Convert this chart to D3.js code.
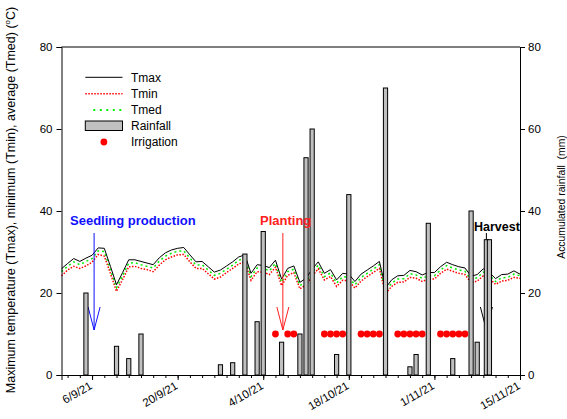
<!DOCTYPE html>
<html>
<head>
<meta charset="utf-8">
<script src="https://cdn.jsdelivr.net/npm/d3@7"></script>
<style>
  body { margin: 0; background: #fff; }
  svg { font-family: "Liberation Sans", Arial, sans-serif; }
  .axis text { font-size: 11.5px; fill: #000; }
  .axis path, .axis line { stroke: #000; }
</style>
</head>
<body>
<svg width="567" height="419"></svg>
<script>
// daily temperatures starting 1/9/21
const tempStart = "2021-09-01";
const tmax = [25.9, 27.2, 28.4, 27.7, 28.5, 29.2, 31.0, 30.9, 26.5, 22.0,
  25.0, 28.1, 28.1, 27.7, 27.3, 26.9, 28.6, 29.8, 30.5, 30.9,
  31.1, 29.3, 27.6, 27.7, 26.4, 25.1, 25.6, 26.6, 27.6, 28.8,
  29.3, 24.8, 26.9, 26.7, 26.2, 28.0, 23.4, 26.0, 26.6, 22.6,
  23.6, 25.8, 27.6, 24.8, 25.7, 23.2, 24.8, 24.6, 22.8, 24.6,
  25.6, 26.6, 27.7, 21.2, 23.2, 24.2, 24.3, 25.5, 25.2, 24.4,
  25.0, 25.0, 26.4, 27.5, 26.9, 26.4, 26.1, 24.1, 24.5, 25.9,
  25.0, 23.5, 24.5, 24.6, 25.4, 24.6];
const tmin = [24.2, 25.6, 26.5, 26.0, 26.6, 27.5, 29.4, 29.0, 24.8, 20.4,
  23.3, 26.4, 26.5, 26.0, 25.7, 25.2, 26.8, 28.1, 28.8, 29.3,
  29.4, 27.6, 26.0, 26.0, 24.7, 23.4, 23.9, 25.0, 26.0, 27.1,
  27.6, 23.1, 25.2, 25.1, 24.5, 26.3, 21.8, 24.3, 25.0, 21.0,
  22.0, 24.1, 25.9, 23.2, 24.0, 21.6, 23.1, 23.0, 21.2, 22.9,
  24.0, 25.0, 26.0, 19.8, 21.6, 22.6, 22.7, 23.8, 23.6, 22.8,
  23.4, 23.4, 24.8, 25.8, 25.3, 24.8, 24.5, 22.5, 22.9, 24.2,
  23.5, 22.1, 22.9, 23.1, 23.8, 23.6];
const tmed = [25.2, 26.5, 27.6, 26.9, 27.7, 28.4, 30.3, 30.1, 25.7, 21.3,
  24.2, 27.3, 27.4, 26.9, 26.5, 26.1, 27.8, 29.0, 29.7, 30.2,
  30.3, 28.5, 26.8, 26.9, 25.6, 24.3, 24.8, 25.8, 26.8, 28.0,
  28.5, 24.0, 26.1, 26.0, 25.4, 27.2, 22.6, 25.2, 25.8, 21.8,
  22.8, 25.0, 26.8, 24.0, 24.9, 22.4, 24.0, 23.8, 22.0, 23.8,
  24.8, 25.8, 26.9, 20.5, 22.4, 23.4, 23.5, 24.7, 24.4, 23.6,
  24.2, 24.2, 25.6, 26.7, 26.1, 25.6, 25.3, 23.3, 23.7, 25.1,
  24.3, 22.8, 23.7, 23.8, 24.6, 24.2];

const rainDates = ["2021-09-05", "2021-09-10", "2021-09-12", "2021-09-14", "2021-09-27",
  "2021-09-29", "2021-10-01", "2021-10-03", "2021-10-04", "2021-10-07", "2021-10-10",
  "2021-10-11", "2021-10-12", "2021-10-16", "2021-10-18", "2021-10-24", "2021-10-28",
  "2021-10-29", "2021-10-31", "2021-11-04", "2021-11-07", "2021-11-08",
  "2021-11-09T12:00Z", "2021-11-10T00:00Z"];
const rainValues = [20, 7, 4, 10, 2.5, 3, 29.5, 13, 35, 8, 10, 53, 60, 5, 44, 70, 2, 5, 37, 4, 40, 8, 33, 33];

const irrigationDates = ["2021-10-06", "2021-10-08", "2021-10-09",
  "2021-10-14", "2021-10-15", "2021-10-16", "2021-10-17",
  "2021-10-20", "2021-10-21", "2021-10-22", "2021-10-23",
  "2021-10-26", "2021-10-27", "2021-10-28", "2021-10-29", "2021-10-30",
  "2021-11-02", "2021-11-03", "2021-11-04", "2021-11-05", "2021-11-06"];
const irrigationLevel = 10;

const xTickDates = ["2021-09-06", "2021-09-20", "2021-10-04", "2021-10-18", "2021-11-01", "2021-11-15"];
const yTicks = [0, 20, 40, 60, 80];

const events = [
  { label: "Seedling production", date: "2021-09-06T08:00Z", color: "#1010ff" },
  { label: "Planting", date: "2021-10-07T05:00Z", color: "#ff2020" },
  { label: "Harvest", date: "2021-11-09T12:00Z", color: "#000" }
];

const svg = d3.select("svg");
const margin = { left: 61.5, right: 47, top: 47, bottom: 44 };
const W = +svg.attr("width"), H = +svg.attr("height");
const x0 = margin.left, x1 = W - margin.right, y0 = margin.top, y1 = H - margin.bottom;

const x = d3.scaleUtc()
  .domain([d3.isoParse("2021-09-01"), d3.isoParse("2021-11-15")])
  .range([x0, x1]);
const yT = d3.scaleLinear().domain([0, 80]).range([y1, y0]);
const yR = d3.scaleLinear().domain([0, 80]).range([y1, y0]);

const start = d3.isoParse(tempStart);
const tempRows = tmax.map((v, i) => ({
  date: d3.utcDay.offset(start, i), tmax: v, tmin: tmin[i], tmed: tmed[i]
}));

// temperature lines
const line = (key) => d3.line().x(d => x(d.date)).y(d => yT(d[key]));
svg.append("path").datum(tempRows).attr("d", line("tmin"))
  .attr("fill", "none").attr("stroke", "#ff0000").attr("stroke-width", 1.5)
  .attr("stroke-dasharray", "1.5,1.5");
svg.append("path").datum(tempRows).attr("d", line("tmed"))
  .attr("fill", "none").attr("stroke", "#00f000").attr("stroke-width", 1.5)
  .attr("stroke-dasharray", "2,3");
svg.append("path").datum(tempRows).attr("d", line("tmax"))
  .attr("fill", "none").attr("stroke", "#000").attr("stroke-width", 1);

// event arrows (behind bars)
const arrowTop = 233, arrowTip = 330;
events.forEach(ev => {
  const ax = x(d3.isoParse(ev.date));
  const g = svg.append("g").attr("stroke", ev.color).attr("fill", "none").attr("stroke-width", 1);
  g.append("line").attr("x1", ax).attr("x2", ax).attr("y1", arrowTop).attr("y2", arrowTip);
  g.append("path").attr("d", `M${ax - 6},${arrowTip - 23}L${ax},${arrowTip}L${ax + 6},${arrowTip - 23}`);
});

// rainfall bars
const barW = 4.2;
svg.append("g").selectAll("rect")
  .data(rainDates.map((d, i) => ({ date: d3.isoParse(d), v: rainValues[i] })))
  .join("rect")
  .attr("x", d => x(d.date) - barW / 2)
  .attr("y", d => yR(d.v))
  .attr("width", barW)
  .attr("height", d => yR(0) - yR(d.v))
  .attr("fill", "#c0c0c0")
  .attr("stroke", "#000")
  .attr("stroke-width", 1);

// irrigation
svg.append("g").selectAll("circle")
  .data(irrigationDates.map(d3.isoParse))
  .join("circle")
  .attr("cx", d => x(d))
  .attr("cy", yR(irrigationLevel))
  .attr("r", 3.4)
  .attr("fill", "#ff0000");

// event labels
const labelPos = [
  { x: 70, y: 225 }, { x: 260, y: 225 }, { x: 474, y: 231 }
];
events.forEach((ev, i) => {
  svg.append("text").attr("x", labelPos[i].x).attr("y", labelPos[i].y)
    .attr("font-size", i === 2 ? 12.5 : 13).attr("font-weight", "bold")
    .attr("fill", ev.color).text(ev.label);
});

// frame
svg.append("line").attr("x1", x0).attr("x2", x1).attr("y1", y0).attr("y2", y0).attr("stroke", "#000");

// axes
const fmt = d3.utcFormat("%-d/%-m/%y");
svg.append("g").attr("class", "axis")
  .attr("transform", `translate(0,${y1})`)
  .call(d3.axisBottom(x).tickValues(xTickDates.map(d3.isoParse)).tickSize(5).tickFormat(""));
const minorTicks = d3.utcDay.range(d3.isoParse("2021-09-02"), d3.isoParse("2021-11-16"), 2);
svg.append("g").attr("class", "axis")
  .attr("transform", `translate(0,${y1})`)
  .call(d3.axisBottom(x).tickValues(minorTicks).tickSize(3).tickFormat(""))
  .select(".domain").remove();

svg.append("g").selectAll("text")
  .data(xTickDates.map(d3.isoParse))
  .join("text")
  .attr("transform", d => `translate(${x(d) + 1},${y1 + 13}) rotate(-30)`)
  .attr("text-anchor", "end")
  .attr("font-size", 11.5)
  .text(d => fmt(d));

svg.append("g").attr("class", "axis")
  .attr("transform", `translate(${x0},0)`)
  .call(d3.axisLeft(yT).tickValues(yTicks).tickSize(5).tickPadding(4));
svg.append("g").attr("class", "axis")
  .attr("transform", `translate(${x1},0)`)
  .call(d3.axisRight(yR).tickValues(yTicks).tickSize(5).tickPadding(3));

// axis titles
const lt = svg.append("text")
  .attr("transform", `translate(15,${(y0 + y1) / 2 - 11}) rotate(-90)`)
  .attr("text-anchor", "middle").attr("font-size", 12.5);
lt.append("tspan").text("Maximum temperature (Tmax), minimum (Tmin), average (Tmed) (");
lt.append("tspan").attr("font-size", 8).attr("dy", -5).text("o");
lt.append("tspan").attr("dy", 5).text("C)");

svg.append("text")
  .attr("transform", `translate(565,197) rotate(-90)`)
  .attr("text-anchor", "middle").attr("font-size", 10.4)
  .style("white-space", "pre")
  .text("Accumulated rainfall  (mm)");

// legend
const legend = svg.append("g").attr("font-size", 12);
const lx0 = 85.3, lx1 = 122.5, ltx = 131;
const rows = [77.3, 93.7, 110, 126, 142];
legend.append("line").attr("x1", lx0).attr("x2", lx1).attr("y1", rows[0]).attr("y2", rows[0]).attr("stroke", "#000");
legend.append("line").attr("x1", lx0).attr("x2", lx1).attr("y1", rows[1]).attr("y2", rows[1])
  .attr("stroke", "#ff0000").attr("stroke-width", 1.5).attr("stroke-dasharray", "1.5,1.5");
legend.append("line").attr("x1", lx0 + 8).attr("x2", lx1).attr("y1", rows[2]).attr("y2", rows[2])
  .attr("stroke", "#00f000").attr("stroke-width", 2).attr("stroke-dasharray", "2,4.5");
legend.append("rect").attr("x", lx0).attr("y", rows[3] - 5).attr("width", lx1 - lx0).attr("height", 9.5)
  .attr("fill", "#c0c0c0").attr("stroke", "#000");
legend.append("circle").attr("cx", (lx0 + lx1) / 2).attr("cy", rows[4]).attr("r", 3.4).attr("fill", "#ff0000");
["Tmax", "Tmin", "Tmed", "Rainfall", "Irrigation"].forEach((t, i) => {
  legend.append("text").attr("x", ltx).attr("y", rows[i] + 4.3).text(t);
});
</script>
</body>
</html>
